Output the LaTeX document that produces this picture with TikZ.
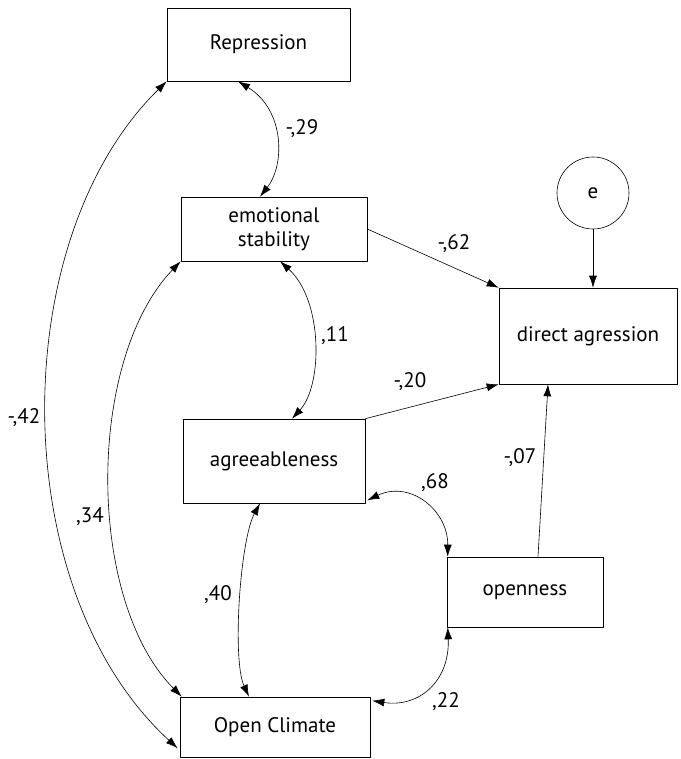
\documentclass[tikz,border=0pt]{standalone}
\usepackage{fontspec}
\setmainfont{PT Sans}
\usetikzlibrary{arrows.meta}
\begin{document}
\begin{tikzpicture}[x=1pt,y=-1pt,line join=round,>={Latex[length=12pt,width=8pt]},
  box/.style={draw,line width=0.6pt,inner sep=0pt,align=center,font=\fontsize{21}{24}\selectfont},
  lbl/.style={font=\fontsize{21}{24}\selectfont},
  path/.style={line width=0.6pt,->},
  cov/.style={line width=0.6pt,<->}]
  \useasboundingbox (0,0) rectangle (680,759);
  % variables
  \node[box,minimum width=183pt,minimum height=73pt] (rep) at (258.5,44.5) {Repression};
  \node[box,minimum width=186pt,minimum height=64pt] (emo) at (274,229) {emotional\\stability};
  \node[box,minimum width=182pt,minimum height=84pt] (agr) at (274,461) {agreeableness};
  \node[box,minimum width=190pt,minimum height=60pt] (opc) at (275,727) {Open Climate};
  \node[box,minimum width=156pt,minimum height=70pt] (opn) at (525,592) {openness};
  \node[box,minimum width=178pt,minimum height=96pt] (dag) at (588,336) {direct agression};
  \node[box,circle,minimum size=72pt] (e) at (593,193) {e};
  % paths
  \draw[path] (e.south) -- (e.south |- dag.north);
  \draw[path] (emo.east) -- (dag.north west);
  \draw[path] (agr.north east) -- (dag.south west);
  \draw[path] ([xshift=13pt]opn.north) -- ([xshift=-40pt]dag.south);
  % correlations
  \draw[cov] ([xshift=-20.5pt]rep.south) .. controls (285,110) and (285,165) .. ([xshift=-14pt]emo.north);
  \draw[cov] ([xshift=6pt]emo.south) .. controls (323,300) and (323,385) .. ([xshift=18pt]agr.north);
  \draw[cov] ([xshift=-14pt]agr.south) .. controls (240,540) and (232,660) .. ([xshift=-26pt]opc.north);
  \draw[cov] ([xshift=2pt,yshift=3pt]agr.south east) .. controls (410,480) and (448,510) .. ([xshift=1pt]opn.north west);
  \draw[cov] ([xshift=2pt,yshift=-4pt]opc.north east) .. controls (420,708) and (450,680) .. ([xshift=1pt]opn.south west);
  \draw[cov] (rep.south west) .. controls (5,240) and (5,590) .. ([xshift=-2pt,yshift=9pt]opc.south west);
  \draw[cov] (emo.south west) .. controls (86,360) and (86,600) .. ([xshift=2pt]opc.north west);
  % coefficients
  \node[lbl] (l1) at (302,129) {-,29};
  \node[lbl] (l2) at (454,244) {-,62};
  \node[lbl] (l3) at (335,336) {,11};
  \node[lbl] (l4) at (410,382) {-,20};
  \node[lbl] (l5) at (520,458) {-,07};
  \node[lbl] (l6) at (435,483) {,68};
  \node[lbl] (l7) at (218,595) {,40};
  \node[lbl] (l8) at (446,702) {,22};
  \node[lbl] (l9) at (24,418) {-,42};
  \node[lbl] (l10) at (90,517) {,34};
\end{tikzpicture}
\end{document}
